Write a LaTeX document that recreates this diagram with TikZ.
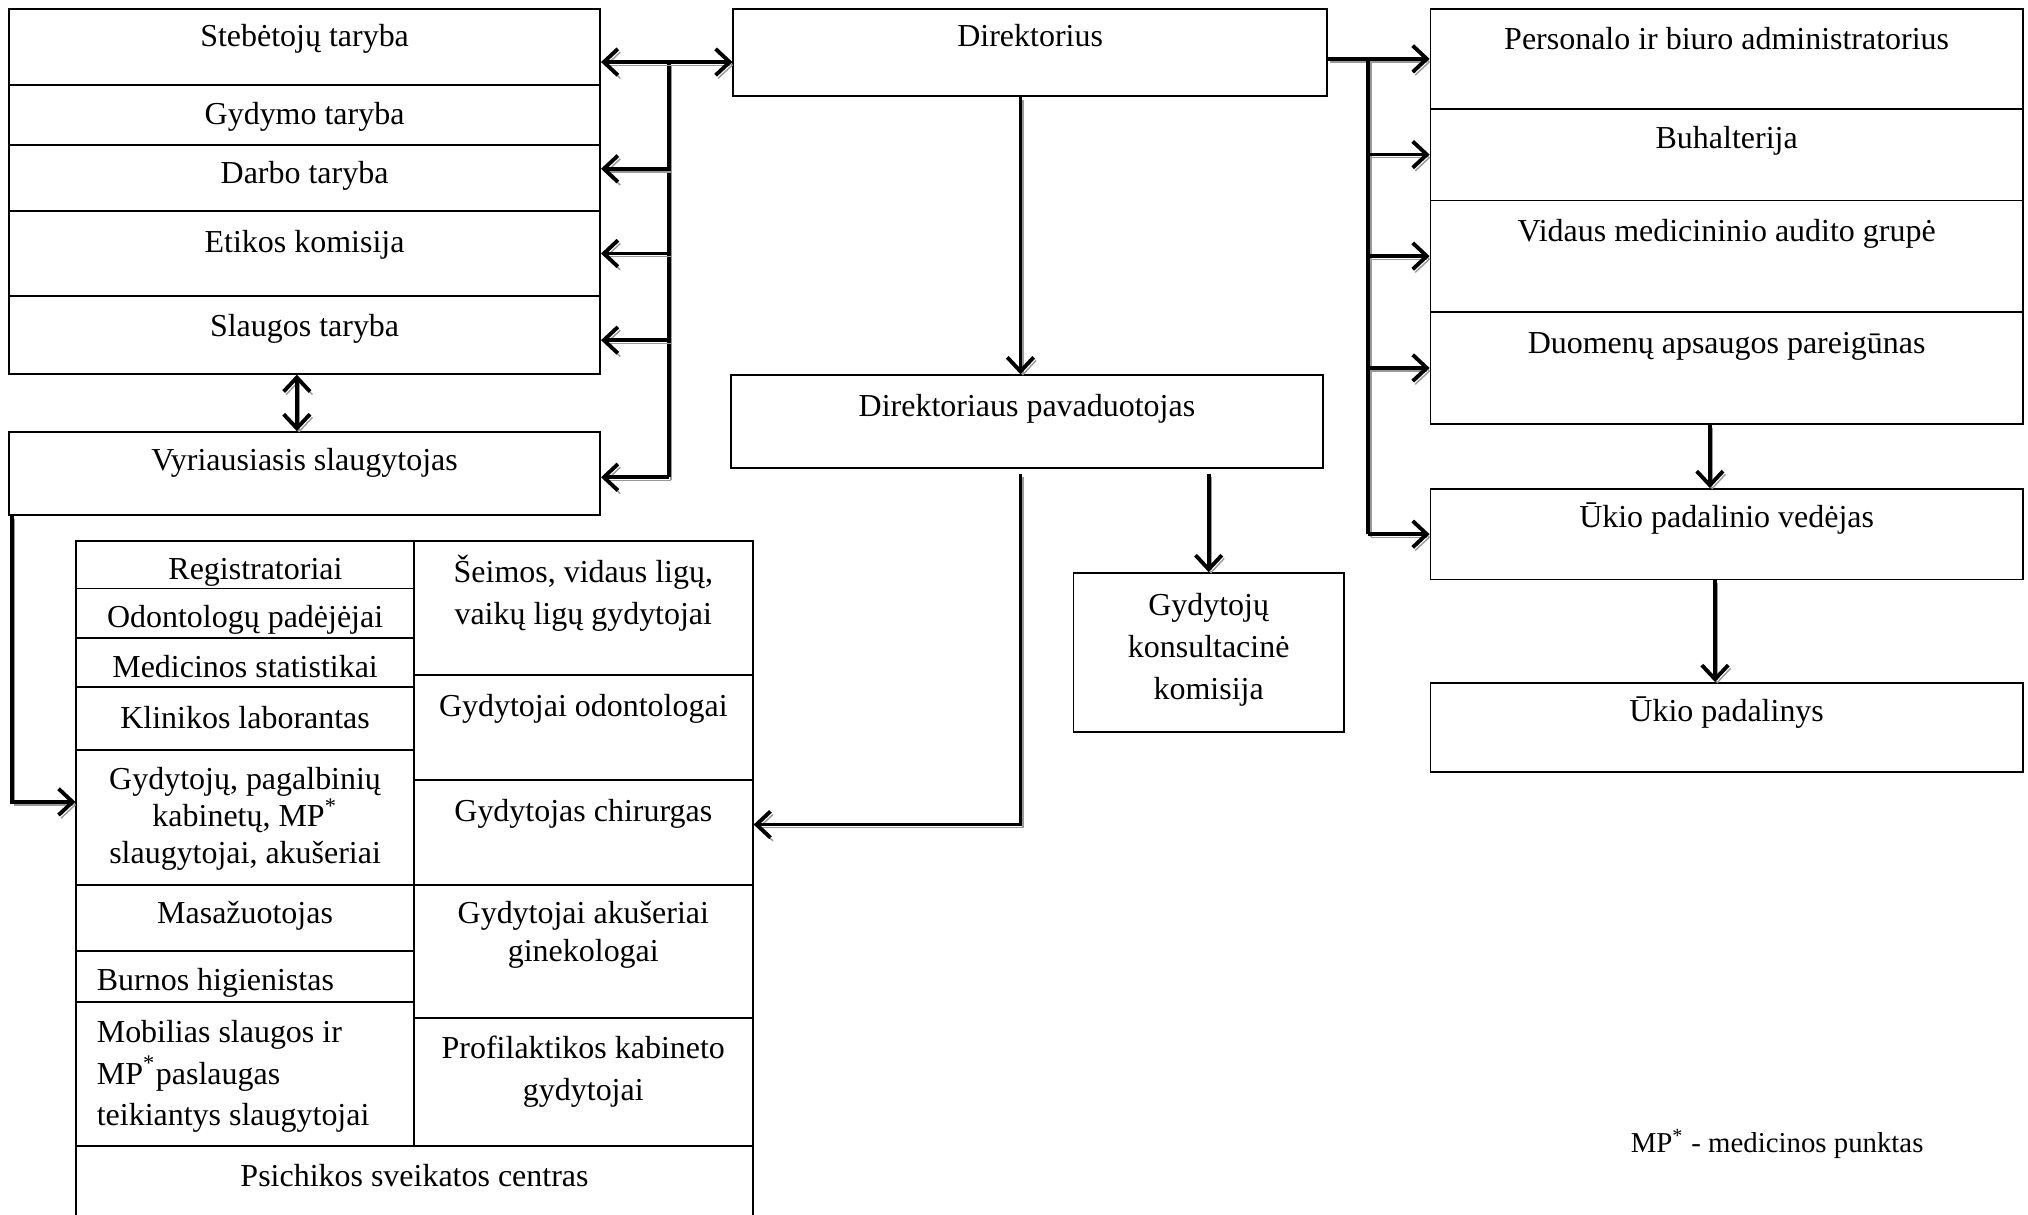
\documentclass[tikz,border=0pt]{standalone}
\usepackage{fontspec}
\setmainfont{Liberation Serif}
\usetikzlibrary{arrows.meta, calc, fit}

\begin{document}
\begin{tikzpicture}[x=0.012934cm, y=-0.012934cm,
    barb/.tip={Straight Barb[length=4pt,width=7.5pt]},
    box/.style={draw, line width=0.5pt, inner sep=0pt},
    txt/.style={font=\fontsize{9.1}{11.9}\selectfont, align=center, inner sep=0pt, yshift=-1.1pt},
    one/.style={txt, text height=6.2pt, text depth=2pt},
    lshadow/.style={preaction={draw=black!40, transform canvas={shift={(0.7pt,-0.9pt)}}}},
    bus/.style={line width=1.1pt, lshadow},
    conn/.style={bus, -barb},
    dconn/.style={bus, barb-barb}]
    \path[use as bounding box, clip] (0,0) rectangle (1568,939);

    % left stack
    \node[box, fit={(7,7) (464,66)}] (steb) {};
    \node[box, fit={(7,66) (464,112)}] (gydymo) {};
    \node[box, fit={(7,112) (464,163)}] (darbo) {};
    \node[box, fit={(7,163) (464,229)}] (etikos) {};
    \node[box, fit={(7,229) (464,289)}] (slaugos) {};
    \node[box, fit={(7,334) (464,398)}] (vyr) {};
    \node[one] (steb-t) at ($(steb.north)+(0,21)$) {Stebėtojų taryba};
    \node[one] (gydymo-t) at ($(gydymo.north)+(0,22)$) {Gydymo taryba};
    \node[one] (darbo-t) at ($(darbo.north)+(0,22)$) {Darbo taryba};
    \node[one] (etikos-t) at ($(etikos.north)+(0,24)$) {Etikos komisija};
    \node[one] (slaugos-t) at ($(slaugos.north)+(0,23)$) {Slaugos taryba};
    \node[one] (vyr-t) at ($(vyr.north)+(0,22)$) {Vyriausiasis slaugytojas};

    % middle
    \node[box, fit={(567,7) (1026,74)}] (dir) {};
    \node[box, fit={(565,290) (1023,362)}] (pav) {};
    \node[box, fit={(830,443) (1039,566)}] (konsult) {};
    \node[one] (dir-t) at ($(dir.north)+(0,21)$) {Direktorius};
    \node[one] (pav-t) at ($(pav.north)+(0,24)$) {Direktoriaus pavaduotojas};
    \node[txt] (konsult-t) at ($(konsult.center)+(0,-5)$) {Gydytojų\\konsultacinė\\komisija};

    % right stack
    \node[box, fit={(1106,7) (1564,84)}] (personalo) {};
    \node[box, fit={(1106,84) (1564,155)}] (buhalt) {};
    \node[box, fit={(1106,155) (1564,241)}] (vidaus) {};
    \node[box, fit={(1106,241) (1564,328)}] (duomenu) {};
    \node[box, fit={(1106,378) (1564,448)}] (ukiov) {};
    \node[box, fit={(1106,528) (1564,597)}] (ukiop) {};
    \node[one] (personalo-t) at ($(personalo.north)+(0,23)$) {Personalo ir biuro administratorius};
    \node[one] (buhalt-t) at ($(buhalt.north)+(0,23)$) {Buhalterija};
    \node[one] (vidaus-t) at ($(vidaus.north)+(0,24)$) {Vidaus medicininio audito grupė};
    \node[one] (duomenu-t) at ($(duomenu.north)+(0,24)$) {Duomenų apsaugos pareigūnas};
    \node[one] (ukiov-t) at ($(ukiov.north)+(0,22)$) {Ūkio padalinio vedėjas};
    \node[one] (ukiop-t) at ($(ukiop.north)+(0,22)$) {Ūkio padalinys};

    % lower left block
    \node[box, fit={(59,418) (320,455)}] (reg) {};
    \node[box, fit={(59,455) (320,493)}] (odont) {};
    \node[box, fit={(59,493) (320,531)}] (medstat) {};
    \node[box, fit={(59,531) (320,580)}] (klin) {};
    \node[box, fit={(59,580) (320,684)}] (gydpag) {};
    \node[box, fit={(59,684) (320,735)}] (masaz) {};
    \node[box, fit={(59,735) (320,775)}] (burnos) {};
    \node[box, fit={(59,775) (320,886)}] (mobil) {};
    \node[box, fit={(320,418) (582,522)}] (seimos) {};
    \node[box, fit={(320,522) (582,603)}] (gydodont) {};
    \node[box, fit={(320,603) (582,684)}] (chir) {};
    \node[box, fit={(320,684) (582,787)}] (akus) {};
    \node[box, fit={(320,787) (582,886)}] (profil) {};
    \node[box, fit={(59,886) (582,960)}] (psich) {};
    \node[one] (reg-t) at ($(reg.north)+(8,22)$) {Registratoriai};
    \node[one] (odont-t) at ($(odont.north)+(0,22)$) {Odontologų padėjėjai};
    \node[one] (medstat-t) at ($(medstat.north)+(0,23)$) {Medicinos statistikai};
    \node[one] (klin-t) at ($(klin.north)+(0,24)$) {Klinikos laborantas};
    \node[txt, font=\fontsize{9.1}{10.5}\selectfont] (gydpag-t) at ($(gydpag.north)+(0,51)$)
        {Gydytojų, pagalbinių\\kabinetų, MP\textsuperscript{*}\\slaugytojai, akušeriai};
    \node[one] (masaz-t) at ($(masaz.north)+(0,22)$) {Masažuotojas};
    \node[one, anchor=west] (burnos-t) at ($(burnos.north west)+(16,23)$) {Burnos higienistas};
    \node[txt, anchor=west, align=left] (mobil-t) at ($(mobil.north west)+(16,55)$)
        {Mobilias slaugos ir\\MP\textsuperscript{*}paslaugas\\teikiantys slaugytojai};
    \node[txt] (seimos-t) at ($(seimos.north)+(0,38.5)$) {Šeimos, vidaus ligų,\\vaikų ligų gydytojai};
    \node[one] (gydodont-t) at ($(gydodont.north)+(0,24)$) {Gydytojai odontologai};
    \node[one] (chir-t) at ($(chir.north)+(0,24)$) {Gydytojas chirurgas};
    \node[txt, font=\fontsize{9.1}{10.6}\selectfont] (akus-t) at ($(akus.north)+(0,36.5)$)
        {Gydytojai akušeriai\\ginekologai};
    \node[txt] (profil-t) at ($(profil.north)+(0,39.5)$) {Profilaktikos kabineto\\gydytojai};
    \node[one] (psich-t) at ($(psich.north)+(0,23)$) {Psichikos sveikatos centras};

    \node[txt, font=\fontsize{8.2}{10}\selectfont, yshift=0.8pt] (note) at (1374,884)
        {MP\textsuperscript{*} - medicinos punktas};

    % left bus
    \coordinate (lb) at (517,48);
    \coordinate (lbe) at (517,369);
    \draw[bus] (lb) -- (lbe);
    \draw[dconn] (steb.east |- lb) -- (dir.west |- lb);
    \draw[conn] ($(lbe |- darbo.east)+(0,-7)$) -- ($(darbo.east)+(0,-7)$);
    \draw[conn] (lbe |- etikos.east) -- (etikos.east);
    \draw[conn] ($(lbe |- slaugos.east)+(0,4)$) -- ($(slaugos.east)+(0,4)$);
    \draw[conn] (lbe) -- (lbe -| vyr.east);
    \draw[dconn] ($(slaugos.south)+(-6,0)$) -- ($(vyr.north)+(-6,0)$);
    \draw[conn] ($(vyr.south west)+(3,0)$) |- ($(gydpag.west)+(0,-12)$);

    % middle arrows
    \coordinate (dx) at (789,0);
    \draw[conn] (dx |- dir.south) -- (dx |- pav.north);
    \draw[conn] ($(dx |- pav.south)+(0,4)$) |- ($(chir.east)+(0,-6)$);
    \draw[conn] ($(konsult.north |- pav.south)+(0,4)$) -- (konsult.north);

    % right bus
    \coordinate (rb) at (1058,0);
    \draw[conn] (dir.east |- personalo.west) -- (personalo.west);
    \draw[bus] (rb |- personalo.west) -- (rb |- ukiov.west);
    \draw[conn] (rb |- buhalt.west) -- (buhalt.west);
    \draw[conn] (rb |- vidaus.west) -- (vidaus.west);
    \draw[conn] (rb |- duomenu.west) -- (duomenu.west);
    \draw[conn] (rb |- ukiov.west) -- (ukiov.west);
    \draw[conn] ($(duomenu.south)+(-13,0)$) -- ($(ukiov.north)+(-13,0)$);
    \draw[conn] ($(ukiov.south)+(-9,0)$) -- ($(ukiop.north)+(-9,0)$);
\end{tikzpicture}
\end{document}
